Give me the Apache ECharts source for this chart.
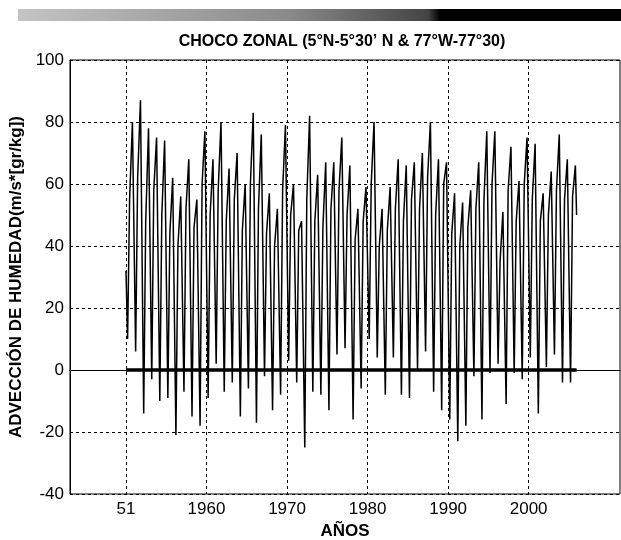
<!DOCTYPE html>
<html lang="es">
<head>
    <meta charset="UTF-8">
    <title>Choco zonal</title>
    <style>
        *{
            margin:0;
            padding:0;
            box-sizing:border-box;
        }
        html, body{
            width:100%;
            height:100%;
            background:#fff;
        }
        #myChart{
            width:621px;
            height:540px;
        }
    </style>
</head>
<body>
<div id="myChart"></div>
<script src="https://cdn.jsdelivr.net/npm/echarts@6/dist/echarts.min.js"></script>
<script>
    // años de la serie (1950-2005)
    var years = [1950, 1951, 1952, 1953, 1954, 1955, 1956, 1957, 1958, 1959,
        1960, 1961, 1962, 1963, 1964, 1965, 1966, 1967, 1968, 1969,
        1970, 1971, 1972, 1973, 1974, 1975, 1976, 1977, 1978, 1979,
        1980, 1981, 1982, 1983, 1984, 1985, 1986, 1987, 1988, 1989,
        1990, 1991, 1992, 1993, 1994, 1995, 1996, 1997, 1998, 1999,
        2000, 2001, 2002, 2003, 2004, 2005];
    // minimo de comienzo de año (feb-mar)
    var troughs = [10, 6, -14, -3, -10, -9, -21, -7, -15, -18,
        -9, 2, -7, -4, -15, -6, -17, -2, -13, -8,
        3, -4, -25, -7, -8, -13, 5, 7, -16, -6,
        10, 4, -8, 4, -8, -9, 0, 6, -7, -13,
        -16, -23, -18, -2, -16, -1, 2, -11, -1, -3,
        4, -14, 1, 5, -4, -4];
    // nivel de mitad de año
    var shoulders = [55, 62, 48, 58, 50, 44, 40, 52, 46, 60,
        50, 58, 48, 55, 45, 60, 52, 44, 40, 58,
        50, 45, 55, 48, 46, 52, 58, 50, 42, 48,
        60, 40, 45, 52, 48, 55, 52, 62, 50, 60,
        44, 40, 46, 52, 55, 60, 35, 58, 48, 60,
        55, 48, 50, 58, 55, 56];
    // maximo de fin de año (oct-nov)
    var peaks = [80, 87, 78, 75, 74, 62, 56, 68, 55, 77,
        68, 80, 65, 70, 60, 83, 76, 57, 52, 79,
        60, 48, 82, 63, 67, 67, 75, 66, 52, 59,
        80, 52, 59, 68, 66, 67, 70, 80, 68, 67,
        57, 54, 58, 67, 77, 77, 51, 72, 61, 75,
        73, 57, 64, 76, 68, 66];
    var startVal = 32;
    var endVal = 50;

    var tickYears = [1950, 1960, 1970, 1980, 1990, 2000];
    var tickLabels = ['51', '1960', '1970', '1980', '1990', '2000'];

    var seriesData = [[years[0], startVal]];
    years.forEach(function(y, i) {
        seriesData.push([y + 0.2, troughs[i]]);
        seriesData.push([y + 0.45, shoulders[i]]);
        seriesData.push([y + 0.8, peaks[i]]);
    });
    seriesData.push([years[years.length - 1] + 0.95, endVal]);
    var zeroData = [[years[0], 0], [years[years.length - 1] + 0.95, 0]];

    var font = '"Liberation Sans Narrow", "Liberation Sans", Arial, sans-serif';

    var myChart = echarts.init(document.getElementById('myChart'));
    var option = {
        backgroundColor:'#fff',
        animation:false,
        graphic:[
            {
                type:'rect',
                shape:{x:18, y:9, width:603, height:12},
                style:{
                    fill:new echarts.graphic.LinearGradient(0, 0, 1, 0, [
                        {offset:0, color:'#c4c4c4'},
                        {offset:0.45, color:'#8a8a8a'},
                        {offset:0.68, color:'#444'},
                        {offset:0.7, color:'#000'},
                        {offset:1, color:'#000'}
                    ])
                },
                silent:true
            },
            {
                type:'text',
                style:{
                    x:342, y:42,
                    text:'CHOCO ZONAL (5°N-5°30\u2019 N & 77°W-77°30)',
                    textAlign:'center',
                    textVerticalAlign:'middle',
                    font:'bold 16px ' + font,
                    fill:'#000'
                }
            }
        ],
        grid:{
            left:70,
            right:1,
            top:60,
            bottom:46,
            outerBoundsMode:'none',
            containLabel:false,
            show:true,
            borderColor:'#000',
            borderWidth:1
        },
        xAxis:{
            type:'value',
            min:1943.05,
            max:2011.34,
            name:'AÑOS',
            nameLocation:'middle',
            nameGap:28,
            nameTextStyle:{fontFamily:font, fontWeight:'bold', fontSize:17, color:'#000'},
            axisLine:{lineStyle:{color:'#000'}},
            axisTick:{show:false, customValues:tickYears},
            axisLabel:{
                customValues:tickYears,
                margin:7,
                fontFamily:font,
                fontSize:17,
                color:'#000',
                formatter:function(v) {
                    var k = tickYears.indexOf(Math.round(v));
                    return k >= 0 ? tickLabels[k] : '';
                }
            },
            splitLine:{show:true, lineStyle:{color:'#000', type:[3, 3], width:1}}
        },
        yAxis:{
            type:'value',
            min:-40,
            max:100,
            interval:20,
            name:'ADVECCIÓN DE HUMEDAD(m/s*[gr/kg])',
            nameLocation:'middle',
            nameGap:45,
            nameTextStyle:{fontFamily:font, fontWeight:'bold', fontSize:17, color:'#000'},
            axisLine:{show:true, lineStyle:{color:'#000'}},
            axisTick:{show:false},
            axisLabel:{margin:6, fontFamily:font, fontSize:17, color:'#000'},
            splitLine:{show:true, lineStyle:{color:'#000', type:[3, 3], width:1}}
        },
        series:[
            {
                type:'line',
                data:seriesData,
                showSymbol:false,
                lineStyle:{color:'#000', width:1.5},
                z:3
            },
            {
                type:'line',
                data:zeroData,
                showSymbol:false,
                lineStyle:{color:'#000', width:3.5},
                z:4
            }
        ]
    };
    myChart.setOption(option);
</script>
</body>
</html>
